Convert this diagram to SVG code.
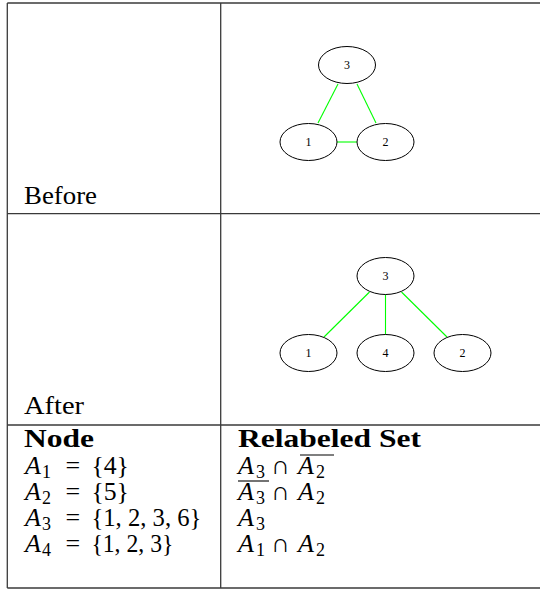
<svg xmlns="http://www.w3.org/2000/svg" width="540" height="590" viewBox="0 0 540 590">
<style>
.grid{stroke:#3a3a3a;stroke-width:1.3;fill:none}
.node ellipse{fill:none;stroke:#000;stroke-width:1}
.node text{font-family:"Liberation Serif",serif;font-size:12px;text-anchor:middle;fill:#000}
.edge{stroke:#00ff00;stroke-width:1.1;fill:none}
.lbl{font-family:"Liberation Serif",serif;font-size:26px;fill:#000}
.hd{font-family:"Liberation Serif",serif;font-size:25px;font-weight:bold;fill:#000}
.it{font-style:italic}
.sb{font-size:18px;font-style:normal}
.ov{stroke:#000;stroke-width:1.1;fill:none}
</style>
<rect width="540" height="590" fill="#fff"/>
<g id="table">
<line class="grid" x1="7.3" y1="3" x2="540" y2="3" stroke-width="1.8"/>
<line class="grid" x1="7.3" y1="3" x2="7.3" y2="588"/>
<line class="grid" x1="220.7" y1="3" x2="220.7" y2="588"/>
<line class="grid" x1="7.3" y1="213.7" x2="540" y2="213.7"/>
<line class="grid" x1="7.3" y1="425" x2="540" y2="425" stroke="#000"/>
<line class="grid" x1="7.3" y1="588" x2="540" y2="588"/>
<text class="lbl" x="24" y="204" textLength="73" lengthAdjust="spacingAndGlyphs">Before</text>
<text class="lbl" x="24" y="414" textLength="60" lengthAdjust="spacingAndGlyphs">After</text>
<text class="hd" x="24" y="447" textLength="70" lengthAdjust="spacingAndGlyphs">Node</text>
<text class="hd" x="238" y="447" textLength="183" lengthAdjust="spacingAndGlyphs">Relabeled Set</text>
</g>
<g id="rows-left">
<text class="lbl" x="25" y="474"><tspan class="it">A</tspan><tspan class="sb" x="42" dy="4">1</tspan></text><text class="lbl" x="65.5" y="474">=</text><text class="lbl" x="91.4" y="474" textLength="37.6" lengthAdjust="spacingAndGlyphs">{4}</text>
<text class="lbl" x="25" y="500"><tspan class="it">A</tspan><tspan class="sb" x="42" dy="4">2</tspan></text><text class="lbl" x="65.5" y="500">=</text><text class="lbl" x="91.4" y="500" textLength="37.6" lengthAdjust="spacingAndGlyphs">{5}</text>
<text class="lbl" x="25" y="526"><tspan class="it">A</tspan><tspan class="sb" x="42" dy="4">3</tspan></text><text class="lbl" x="65.5" y="526">=</text><text class="lbl" x="91.4" y="526" textLength="110" lengthAdjust="spacingAndGlyphs">{1, 2, 3, 6}</text>
<text class="lbl" x="25" y="552"><tspan class="it">A</tspan><tspan class="sb" x="42" dy="4">4</tspan></text><text class="lbl" x="65.5" y="552">=</text><text class="lbl" x="91.4" y="552" textLength="82" lengthAdjust="spacingAndGlyphs">{1, 2, 3}</text>
</g>
<g id="rows-right">
<text class="lbl" x="238" y="474"><tspan class="it">A</tspan><tspan class="sb" x="256" dy="4">3</tspan></text><text class="lbl" x="271" y="474">∩</text><text class="lbl" x="298" y="474"><tspan class="it">A</tspan><tspan class="sb" x="316" dy="4">2</tspan></text>
<line class="ov" x1="300" y1="455" x2="334" y2="455"/>
<text class="lbl" x="238" y="500"><tspan class="it">A</tspan><tspan class="sb" x="256" dy="4">3</tspan></text><text class="lbl" x="271" y="500">∩</text><text class="lbl" x="298" y="500"><tspan class="it">A</tspan><tspan class="sb" x="316" dy="4">2</tspan></text>
<line class="ov" x1="238" y1="481" x2="269" y2="481"/>
<text class="lbl" x="238" y="526"><tspan class="it">A</tspan><tspan class="sb" x="256" dy="4">3</tspan></text>
<text class="lbl" x="238" y="552"><tspan class="it">A</tspan><tspan class="sb" x="256" dy="4">1</tspan></text><text class="lbl" x="271" y="552">∩</text><text class="lbl" x="298" y="552"><tspan class="it">A</tspan><tspan class="sb" x="316" dy="4">2</tspan></text>
</g>
<g id="edges">
<line class="edge" x1="338" y1="84" x2="318" y2="123"/>
<line class="edge" x1="357" y1="84" x2="376" y2="123"/>
<line class="edge" x1="337" y1="142" x2="357" y2="142"/>
<line class="edge" x1="369.5" y1="292" x2="324" y2="337"/>
<line class="edge" x1="385.5" y1="294.5" x2="385.5" y2="334.5"/>
<line class="edge" x1="401.5" y1="292" x2="447" y2="337"/>
</g>
<g id="before-3" class="node"><ellipse cx="347" cy="65" rx="28.5" ry="18.5"/><text x="347" y="69">3</text></g>
<g id="before-1" class="node"><ellipse cx="308.5" cy="142" rx="28.5" ry="18.5"/><text x="308.5" y="146">1</text></g>
<g id="before-2" class="node"><ellipse cx="385.5" cy="142" rx="28.5" ry="18.5"/><text x="385.5" y="146">2</text></g>
<g id="after-3" class="node"><ellipse cx="385.5" cy="276" rx="28.5" ry="18.5"/><text x="385.5" y="280">3</text></g>
<g id="after-1" class="node"><ellipse cx="308.5" cy="353" rx="28.5" ry="18.5"/><text x="308.5" y="357">1</text></g>
<g id="after-4" class="node"><ellipse cx="385.5" cy="353" rx="28.5" ry="18.5"/><text x="385.5" y="357">4</text></g>
<g id="after-2" class="node"><ellipse cx="462.5" cy="353" rx="28.5" ry="18.5"/><text x="462.5" y="357">2</text></g>
</svg>
